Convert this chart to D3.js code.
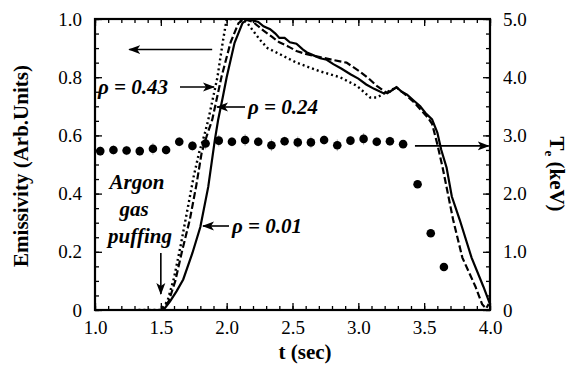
<!DOCTYPE html>
<head>
  <meta charset="utf-8">
  <script src="https://cdn.jsdelivr.net/npm/d3@7/dist/d3.min.js"></script>
  <style>
    body { margin: 0; background: #fff; }
  </style>
</head>

<body>
  <div id="chart"></div>

  <script>
    // Emissivity curves, [t (sec), emissivity]
    var rho001 = [
        [1.33,0],[1.52,0],[1.57,0.03],[1.62,0.065],[1.67,0.105],[1.74,0.196],[1.80,0.285],
        [1.86,0.423],[1.91,0.584],[1.935,0.653],[1.97,0.73],[2.00,0.80],[2.06,0.918],
        [2.12,0.986],[2.16,1.0],[2.20,0.995],[2.24,0.99],[2.28,0.975],[2.33,0.965],
        [2.37,0.95],[2.40,0.935],[2.44,0.935],[2.48,0.92],[2.53,0.915],[2.58,0.895],
        [2.61,0.885],[2.66,0.875],[2.71,0.865],[2.76,0.86],[2.81,0.845],[2.87,0.83],
        [2.94,0.81],[3.00,0.795],[3.06,0.775],[3.12,0.76],[3.19,0.745],[3.24,0.75],
        [3.29,0.766],[3.33,0.75],[3.37,0.74],[3.42,0.72],[3.47,0.70],[3.51,0.677],
        [3.56,0.655],[3.60,0.61],[3.63,0.55],[3.67,0.49],[3.71,0.39],[3.77,0.31],
        [3.86,0.18],[3.95,0.08],[4.0,0.02]
    ];
    var rho024 = [
        [1.33,0],[1.51,0],[1.56,0.03],[1.61,0.10],[1.66,0.20],[1.72,0.31],[1.77,0.43],
        [1.81,0.54],[1.85,0.60],[1.89,0.653],[1.96,0.80],[2.03,0.92],[2.09,0.986],
        [2.13,1.0],[2.20,0.99],[2.24,0.975],[2.28,0.96],[2.34,0.94],[2.40,0.92],
        [2.47,0.905],[2.53,0.89],[2.60,0.88],[2.70,0.87],[2.80,0.86],[2.91,0.85],
        [3.01,0.82],[3.08,0.795],[3.14,0.77],[3.22,0.745],[3.29,0.765],[3.33,0.75],
        [3.37,0.735],[3.42,0.715],[3.47,0.69],[3.53,0.66],[3.56,0.64],[3.60,0.57],
        [3.64,0.49],[3.68,0.40],[3.72,0.31],[3.79,0.18],[3.89,0.08],[3.94,0.02],
        [3.97,0.005],[3.99,0.02]
    ];
    var rho043 = [
        [1.33,0],[1.50,0],[1.55,0.03],[1.60,0.11],[1.65,0.22],[1.70,0.34],[1.75,0.46],
        [1.79,0.54],[1.83,0.60],[1.86,0.653],[1.93,0.80],[1.97,0.92],[2.00,1.0],
        [2.10,1.0],[2.15,0.99],[2.20,0.96],[2.25,0.93],[2.31,0.90],[2.40,0.88],
        [2.53,0.85],[2.62,0.835],[2.71,0.82],[2.86,0.80],[2.99,0.77],[3.09,0.73],
        [3.14,0.73],[3.20,0.745],[3.29,0.765]
    ];

    // Electron temperature (keV) points
    var teTimes = [1.04,1.14,1.24,1.34,1.44,1.54,1.64,1.74,1.84,1.94,2.04,2.14,2.24,2.34,
                   2.44,2.54,2.64,2.74,2.84,2.94,3.04,3.14,3.24,3.34,3.45,3.55,3.65];
    var teValues = [2.73,2.75,2.74,2.73,2.77,2.75,2.89,2.82,2.86,2.91,2.89,2.92,2.89,2.83,
                    2.90,2.88,2.88,2.92,2.83,2.91,2.94,2.89,2.90,2.85,2.16,1.32,0.74];
    var teErrors = [0.08,0.08,0.08,0.08,0.1,0.08,0.08,0.08,0.1,0.1,0.08,0.1,0.08,0.1,
                    0.08,0.1,0.1,0.08,0.1,0.08,0.1,0.08,0.08,0.06,0.05,0.05,0.05];

    // Tick labels
    var xTicks = [1.0,1.5,2.0,2.5,3.0,3.5,4.0];
    var xTickLabels = ["1.0","1.5","2.0","2.5","3.0","3.5","4.0"];
    var yTicks = [0,0.2,0.4,0.6,0.8,1.0];
    var yTickLabels = ["0","0.2","0.4","0.6","0.8","1.0"];
    var rTicks = [0,1,2,3,4,5];
    var rTickLabels = ["0","1.0","2.0","3.0","4.0","5.0"];

    var serif = "'Liberation Serif', 'Times New Roman', Tinos, 'DejaVu Serif', serif";
    var width = 573, height = 372;
    var pLeft = 95, pRight = 490, pTop = 19, pBottom = 310;

    var x = d3.scaleLinear().domain([1, 4]).range([pLeft, pRight]);
    var y = d3.scaleLinear().domain([0, 1]).range([pBottom, pTop]);
    var yR = d3.scaleLinear().domain([0, 5]).range([pBottom, pTop]);

    var svg = d3.select("#chart").append("svg")
        .attr("width", width)
        .attr("height", height)
        .style("font-family", serif);

    var defs = svg.append("defs");
    defs.append("clipPath").attr("id", "plotclip")
        .append("rect")
        .attr("x", pLeft).attr("y", pTop - 1)
        .attr("width", pRight - pLeft).attr("height", pBottom - pTop + 1);
    defs.append("marker")
        .attr("id", "arrow")
        .attr("viewBox", "0 -5 12 10")
        .attr("refX", 11).attr("refY", 0)
        .attr("markerWidth", 12).attr("markerHeight", 10)
        .attr("markerUnits", "userSpaceOnUse")
        .attr("orient", "auto")
        .append("path")
        .attr("d", "M0,-4.5L12,0L0,4.5L3,0Z")
        .style("fill", "#000");

    // Axes: ticks point inward
    var fmt = function(list, labels) {
        return function(d) { return labels[list.indexOf(d)]; };
    };
    var steps = function(a, b, s) {
        var out = [];
        for (var v = a; v <= b + 1e-9; v += s) out.push(+v.toFixed(3));
        return out;
    };

    function styleAxis(g) {
        g.attr("font-family", null).style("font-family", serif);
        g.select(".domain").remove();
        g.selectAll("line").style("stroke", "#000").style("stroke-width", 1.3);
        g.selectAll("text").style("font-size", "19px").style("fill", "#000")
            .style("font-family", serif);
    }

    svg.append("g").attr("transform", "translate(0," + pBottom + ")")
        .call(d3.axisBottom(x).tickValues(steps(1, 4, 0.1)).tickSize(-4).tickFormat(""))
        .call(styleAxis);
    svg.append("g").attr("transform", "translate(0," + pBottom + ")")
        .call(d3.axisBottom(x).tickValues(xTicks).tickSize(-7).tickPadding(11)
            .tickFormat(fmt(xTicks, xTickLabels)))
        .call(styleAxis);
    svg.append("g").attr("transform", "translate(0," + pTop + ")")
        .call(d3.axisTop(x).tickValues(steps(1, 4, 0.1)).tickSize(-4).tickFormat(""))
        .call(styleAxis);
    svg.append("g").attr("transform", "translate(0," + pTop + ")")
        .call(d3.axisTop(x).tickValues(xTicks).tickSize(-7).tickFormat(""))
        .call(styleAxis);

    svg.append("g").attr("transform", "translate(" + pLeft + ",0)")
        .call(d3.axisLeft(y).tickValues(steps(0, 1, 0.05)).tickSize(-4).tickFormat(""))
        .call(styleAxis);
    svg.append("g").attr("transform", "translate(" + pLeft + ",0)")
        .call(d3.axisLeft(y).tickValues(yTicks).tickSize(-7).tickPadding(13)
            .tickFormat(fmt(yTicks, yTickLabels)))
        .call(styleAxis);

    svg.append("g").attr("transform", "translate(" + pRight + ",0)")
        .call(d3.axisRight(yR).tickValues(steps(0, 5, 0.25)).tickSize(-4).tickFormat(""))
        .call(styleAxis);
    svg.append("g").attr("transform", "translate(" + pRight + ",0)")
        .call(d3.axisRight(yR).tickValues(rTicks).tickSize(-7).tickPadding(13)
            .tickFormat(fmt(rTicks, rTickLabels)))
        .call(styleAxis);

    // Frame
    svg.append("rect")
        .attr("x", pLeft).attr("y", pTop)
        .attr("width", pRight - pLeft).attr("height", pBottom - pTop)
        .style("fill", "none").style("stroke", "#000").style("stroke-width", 2.2);

    // Axis titles
    svg.append("text")
        .attr("x", 305).attr("y", 359)
        .attr("text-anchor", "middle")
        .style("font-size", "21px").style("font-weight", "bold")
        .text("t (sec)");
    svg.append("text")
        .attr("transform", "translate(28,166) rotate(-90)")
        .attr("text-anchor", "middle")
        .style("font-size", "21px").style("font-weight", "bold")
        .text("Emissivity (Arb.Units)");
    var rt = svg.append("text")
        .attr("transform", "translate(550,174) rotate(90)")
        .attr("text-anchor", "middle")
        .style("font-size", "21px").style("font-weight", "bold");
    rt.append("tspan").text("T");
    rt.append("tspan").attr("dy", 5).style("font-size", "13px").text("e");
    rt.append("tspan").attr("dy", -5).text(" (keV)");

    // Error bars and Te dots
    var te = teTimes.map(function(t, i) { return {t: t, v: teValues[i], e: teErrors[i]}; });
    svg.append("g").selectAll("line").data(te).enter().append("line")
        .attr("x1", function(d) { return x(d.t); })
        .attr("x2", function(d) { return x(d.t); })
        .attr("y1", function(d) { return yR(d.v - d.e); })
        .attr("y2", function(d) { return yR(d.v + d.e); })
        .style("stroke", "#aaa").style("stroke-width", 1);
    svg.append("g").selectAll("circle").data(te).enter().append("circle")
        .attr("cx", function(d) { return x(d.t); })
        .attr("cy", function(d) { return yR(d.v); })
        .attr("r", 4.3)
        .style("fill", "#000");

    // Emissivity curves
    var line = d3.line()
        .x(function(d) { return x(d[0]); })
        .y(function(d) { return y(d[1]); });

    var curves = svg.append("g").attr("clip-path", "url(#plotclip)");
    curves.append("path").datum(rho043).attr("d", line)
        .style("fill", "none").style("stroke", "#000").style("stroke-width", 2.4)
        .style("stroke-dasharray", "2,3");
    curves.append("path").datum(rho024).attr("d", line)
        .style("fill", "none").style("stroke", "#000").style("stroke-width", 2.2)
        .style("stroke-dasharray", "7,3");
    curves.append("path").datum(rho001).attr("d", line)
        .style("fill", "none").style("stroke", "#000").style("stroke-width", 2.2);

    // Annotations
    function arrow(x1, y1, x2, y2) {
        svg.append("line")
            .attr("x1", x1).attr("y1", y1).attr("x2", x2).attr("y2", y2)
            .style("stroke", "#000").style("stroke-width", 1.6)
            .attr("marker-end", "url(#arrow)");
    }
    function label(tx, ty, str, anchor) {
        svg.append("text")
            .attr("x", tx).attr("y", ty)
            .attr("text-anchor", anchor || "start")
            .style("font-size", "21px").style("font-weight", "bold").style("font-style", "italic")
            .text(str);
    }

    arrow(x(1.89), y(0.895), x(1.26), y(0.895));
    arrow(x(3.43), yR(2.82), x(3.99), yR(2.82));

    label(98, 94, "\u03c1 = 0.43");
    arrow(180, 87, 214, 87);
    label(248, 114, "\u03c1 = 0.24");
    arrow(245, 107, 217, 107);
    label(232, 233, "\u03c1 = 0.01");
    arrow(229, 226, 203, 226);

    label(137, 189, "Argon", "middle");
    label(134, 216, "gas", "middle");
    label(140, 243, "puffing", "middle");
    arrow(x(1.5), 253, x(1.5), 294);
  </script>
</body>
